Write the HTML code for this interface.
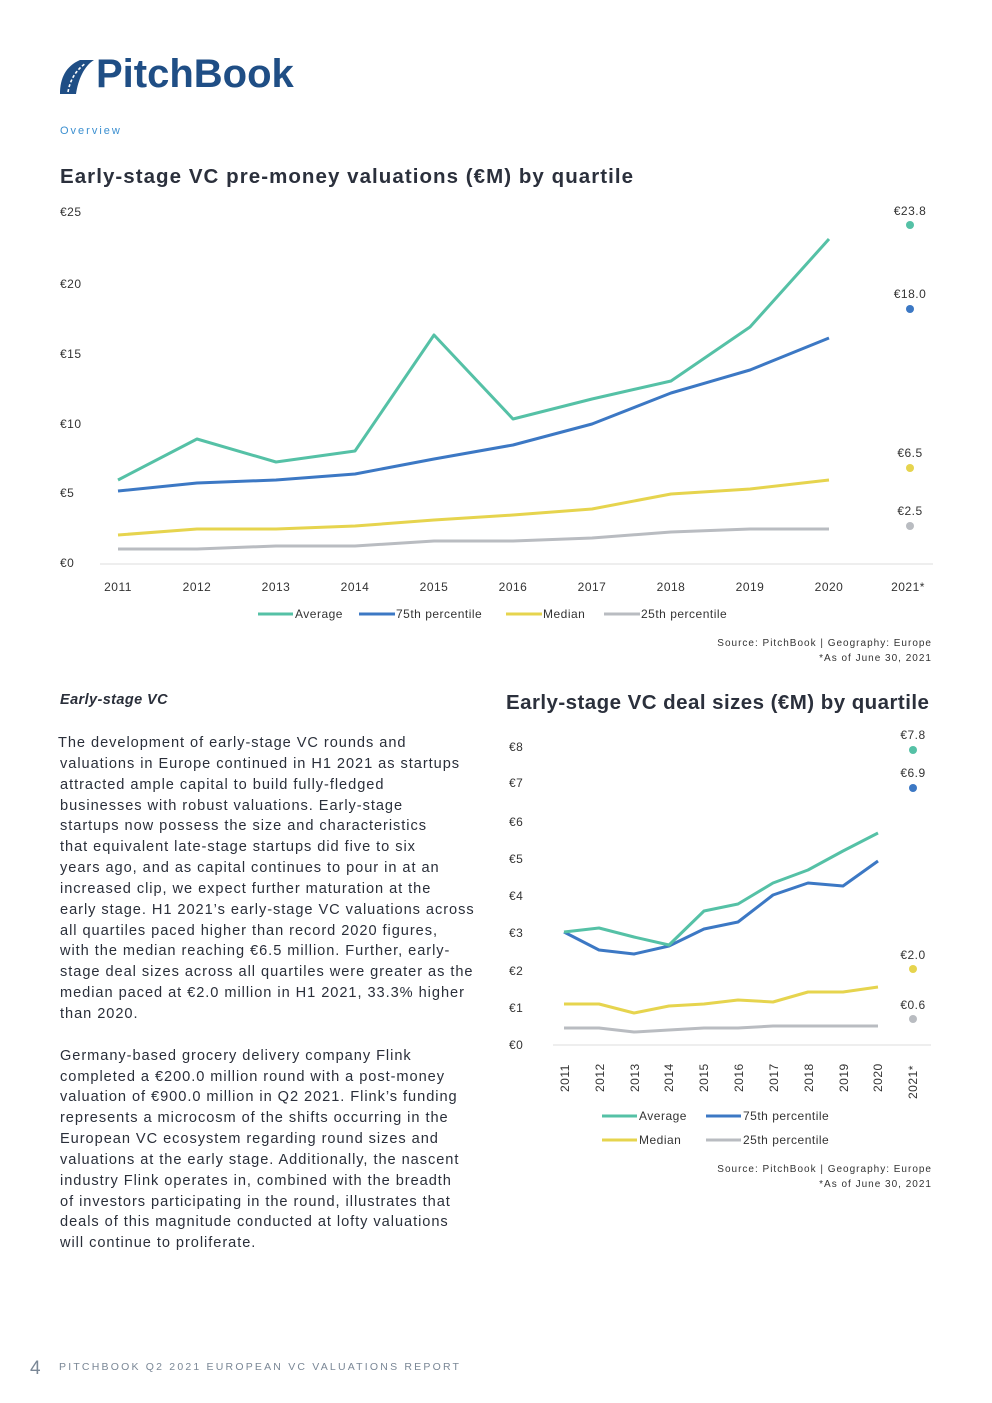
<!DOCTYPE html>
<html><head><meta charset="utf-8"><style>
body{margin:0;width:992px;height:1403px;background:#fff;position:relative;font-family:"Liberation Sans",sans-serif;color:#2a2f3a;overflow:hidden}
.a{position:absolute;white-space:nowrap}
.t{font-size:20.5px;font-weight:bold;color:#2b303c;letter-spacing:0.75px}
.body{position:absolute;left:60px;top:733px;width:440px;font-size:14.6px;line-height:20.85px;letter-spacing:0.95px;color:#2a2f3a}
svg text{font-family:"Liberation Sans",sans-serif}
</style></head><body>
<svg class="a" style="left:58px;top:58px" width="40" height="38" viewBox="0 0 40 38"><path d="M2 36 C2 20 8 8 22 2 L36 2 C26 8 20 22 18 36 Z" fill="#1f4e85"/><path d="M10 34 C12 22 18 12 28 5" stroke="#fff" stroke-width="1.6" fill="none" stroke-dasharray="3 2"/></svg>
<div class="a" style="left:96px;top:52px;font-size:40px;font-weight:bold;color:#1f4e85;letter-spacing:0px">PitchBook</div>
<div class="a" style="left:60px;top:125px;font-size:11px;color:#3b8fd0;letter-spacing:2px">Overview</div>
<div class="a t" style="left:60px;top:165px;letter-spacing:1.05px">Early-stage VC pre-money valuations (€M) by quartile</div>

<svg class="a" style="left:0;top:0" width="992" height="1403">
<g font-size="12" fill="#333" letter-spacing="0.5">
<text x="60" y="216">€25</text><text x="60" y="288">€20</text><text x="60" y="358">€15</text><text x="60" y="428">€10</text><text x="60" y="497">€5</text><text x="60" y="567">€0</text>
</g>
<line x1="100" y1="564" x2="933" y2="564" stroke="#ddd"/>
<g font-size="12" fill="#333" text-anchor="middle" letter-spacing="0.5">
<text x="118" y="591">2011</text><text x="197" y="591">2012</text><text x="276" y="591">2013</text><text x="355" y="591">2014</text><text x="434" y="591">2015</text><text x="513" y="591">2016</text><text x="592" y="591">2017</text><text x="671" y="591">2018</text><text x="750" y="591">2019</text><text x="829" y="591">2020</text><text x="908" y="591">2021*</text>
<text x="910" y="215">€23.8</text><text x="910" y="298">€18.0</text><text x="910" y="457">€6.5</text><text x="910" y="515">€2.5</text>
</g>
<g fill="none" stroke-width="3" stroke-linejoin="round">
<polyline stroke="#b9bcc1" points="118,549 197,549 276,546 355,546 434,541 513,541 592,538 671,532 750,529 829,529"/>
<polyline stroke="#e6d44e" points="118,535 197,529 276,529 355,526 434,520 513,515 592,509 671,494 750,489 829,480"/>
<polyline stroke="#3c78c4" points="118,491 197,483 276,480 355,474 434,459 513,445 592,424 671,393 750,370 829,338"/>
<polyline stroke="#55c1a6" points="118,480 197,439 276,462 355,451 434,335 513,419 592,399 671,381 750,327 829,239"/>
</g>
<circle cx="910" cy="225" r="4" fill="#55c1a6"/><circle cx="910" cy="309" r="4" fill="#3c78c4"/><circle cx="910" cy="468" r="4" fill="#e6d44e"/><circle cx="910" cy="526" r="4" fill="#b9bcc1"/>
<g font-size="12" fill="#333" letter-spacing="0.5">
<line x1="258" y1="614" x2="293" y2="614" stroke="#55c1a6" stroke-width="3"/><text x="295" y="618">Average</text>
<line x1="359" y1="614" x2="395" y2="614" stroke="#3c78c4" stroke-width="3"/><text x="396" y="618">75th percentile</text>
<line x1="506" y1="614" x2="542" y2="614" stroke="#e6d44e" stroke-width="3"/><text x="543" y="618">Median</text>
<line x1="604" y1="614" x2="640" y2="614" stroke="#b9bcc1" stroke-width="3"/><text x="641" y="618">25th percentile</text>
</g>
<g font-size="10" fill="#333" text-anchor="end" letter-spacing="1">
<text x="932" y="646">Source: PitchBook | Geography: Europe</text><text x="932" y="661">*As of June 30, 2021</text>
<text x="932" y="1172">Source: PitchBook | Geography: Europe</text><text x="932" y="1187">*As of June 30, 2021</text>
</g>

<g font-size="12" fill="#333" letter-spacing="0.5">
<text x="509" y="751">€8</text><text x="509" y="787">€7</text><text x="509" y="826">€6</text><text x="509" y="863">€5</text><text x="509" y="900">€4</text><text x="509" y="937">€3</text><text x="509" y="975">€2</text><text x="509" y="1012">€1</text><text x="509" y="1049">€0</text>
</g>
<line x1="553" y1="1045" x2="931" y2="1045" stroke="#ddd"/>
<g font-size="12" fill="#333" letter-spacing="0.5">
<text transform="translate(569,1092) rotate(-90)">2011</text><text transform="translate(604,1092) rotate(-90)">2012</text><text transform="translate(639,1092) rotate(-90)">2013</text><text transform="translate(673,1092) rotate(-90)">2014</text><text transform="translate(708,1092) rotate(-90)">2015</text><text transform="translate(743,1092) rotate(-90)">2016</text><text transform="translate(778,1092) rotate(-90)">2017</text><text transform="translate(813,1092) rotate(-90)">2018</text><text transform="translate(848,1092) rotate(-90)">2019</text><text transform="translate(882,1092) rotate(-90)">2020</text><text transform="translate(917,1099) rotate(-90)">2021*</text>
</g>
<g font-size="12" fill="#333" text-anchor="middle" letter-spacing="0.5">
<text x="913" y="739">€7.8</text><text x="913" y="777">€6.9</text><text x="913" y="959">€2.0</text><text x="913" y="1009">€0.6</text>
</g>
<g fill="none" stroke-width="3" stroke-linejoin="round">
<polyline stroke="#b9bcc1" points="564,1028 599,1028 634,1032 669,1030 704,1028 738,1028 773,1026 808,1026 843,1026 878,1026"/>
<polyline stroke="#e6d44e" points="564,1004 599,1004 634,1013 669,1006 704,1004 738,1000 773,1002 808,992 843,992 878,987"/>
<polyline stroke="#3c78c4" points="564,932 599,950 634,954 669,946 704,929 738,922 773,895 808,883 843,886 878,861"/>
<polyline stroke="#55c1a6" points="564,932 599,928 634,937 669,945 704,911 738,904 773,883 808,870 843,851 878,833"/>
</g>
<circle cx="913" cy="750" r="4" fill="#55c1a6"/><circle cx="913" cy="788" r="4" fill="#3c78c4"/><circle cx="913" cy="969" r="4" fill="#e6d44e"/><circle cx="913" cy="1019" r="4" fill="#b9bcc1"/>
<g font-size="12" fill="#333" letter-spacing="0.5">
<line x1="602" y1="1116" x2="637" y2="1116" stroke="#55c1a6" stroke-width="3"/><text x="639" y="1120">Average</text>
<line x1="706" y1="1116" x2="741" y2="1116" stroke="#3c78c4" stroke-width="3"/><text x="743" y="1120">75th percentile</text>
<line x1="602" y1="1140" x2="637" y2="1140" stroke="#e6d44e" stroke-width="3"/><text x="639" y="1144">Median</text>
<line x1="706" y1="1140" x2="741" y2="1140" stroke="#b9bcc1" stroke-width="3"/><text x="743" y="1144">25th percentile</text>
</g>
</svg>

<div class="a" style="left:60px;top:692px;font-size:14.5px;font-style:italic;font-weight:bold;color:#2a2f3a;letter-spacing:0.4px">Early-stage VC</div>
<div class="a t" style="left:506px;top:691px;letter-spacing:0.45px">Early-stage VC deal sizes (€M) by quartile</div>

<div class="body"><span style="margin-left:-2px">The development of early-stage VC rounds and</span><br>valuations in Europe continued in H1 2021 as startups<br>attracted ample capital to build fully-fledged<br>businesses with robust valuations. Early-stage<br>startups now possess the size and characteristics<br>that equivalent late-stage startups did five to six<br>years ago, and as capital continues to pour in at an<br>increased clip, we expect further maturation at the<br>early stage. H1 2021’s early-stage VC valuations across<br>all quartiles paced higher than record 2020 figures,<br>with the median reaching €6.5 million. Further, early-<br>stage deal sizes across all quartiles were greater as the<br>median paced at €2.0 million in H1 2021, 33.3% higher<br>than 2020.<br><br>Germany-based grocery delivery company Flink<br>completed a €200.0 million round with a post-money<br>valuation of €900.0 million in Q2 2021. Flink’s funding<br>represents a microcosm of the shifts occurring in the<br>European VC ecosystem regarding round sizes and<br>valuations at the early stage. Additionally, the nascent<br>industry Flink operates in, combined with the breadth<br>of investors participating in the round, illustrates that<br>deals of this magnitude conducted at lofty valuations<br>will continue to proliferate.</div>

<div class="a" style="left:30px;top:1358px;font-size:19px;color:#7a8796">4</div>
<div class="a" style="left:59px;top:1361px;font-size:10.5px;color:#7a8796;letter-spacing:2.2px">PITCHBOOK Q2 2021 EUROPEAN VC VALUATIONS REPORT</div>
</body></html>
